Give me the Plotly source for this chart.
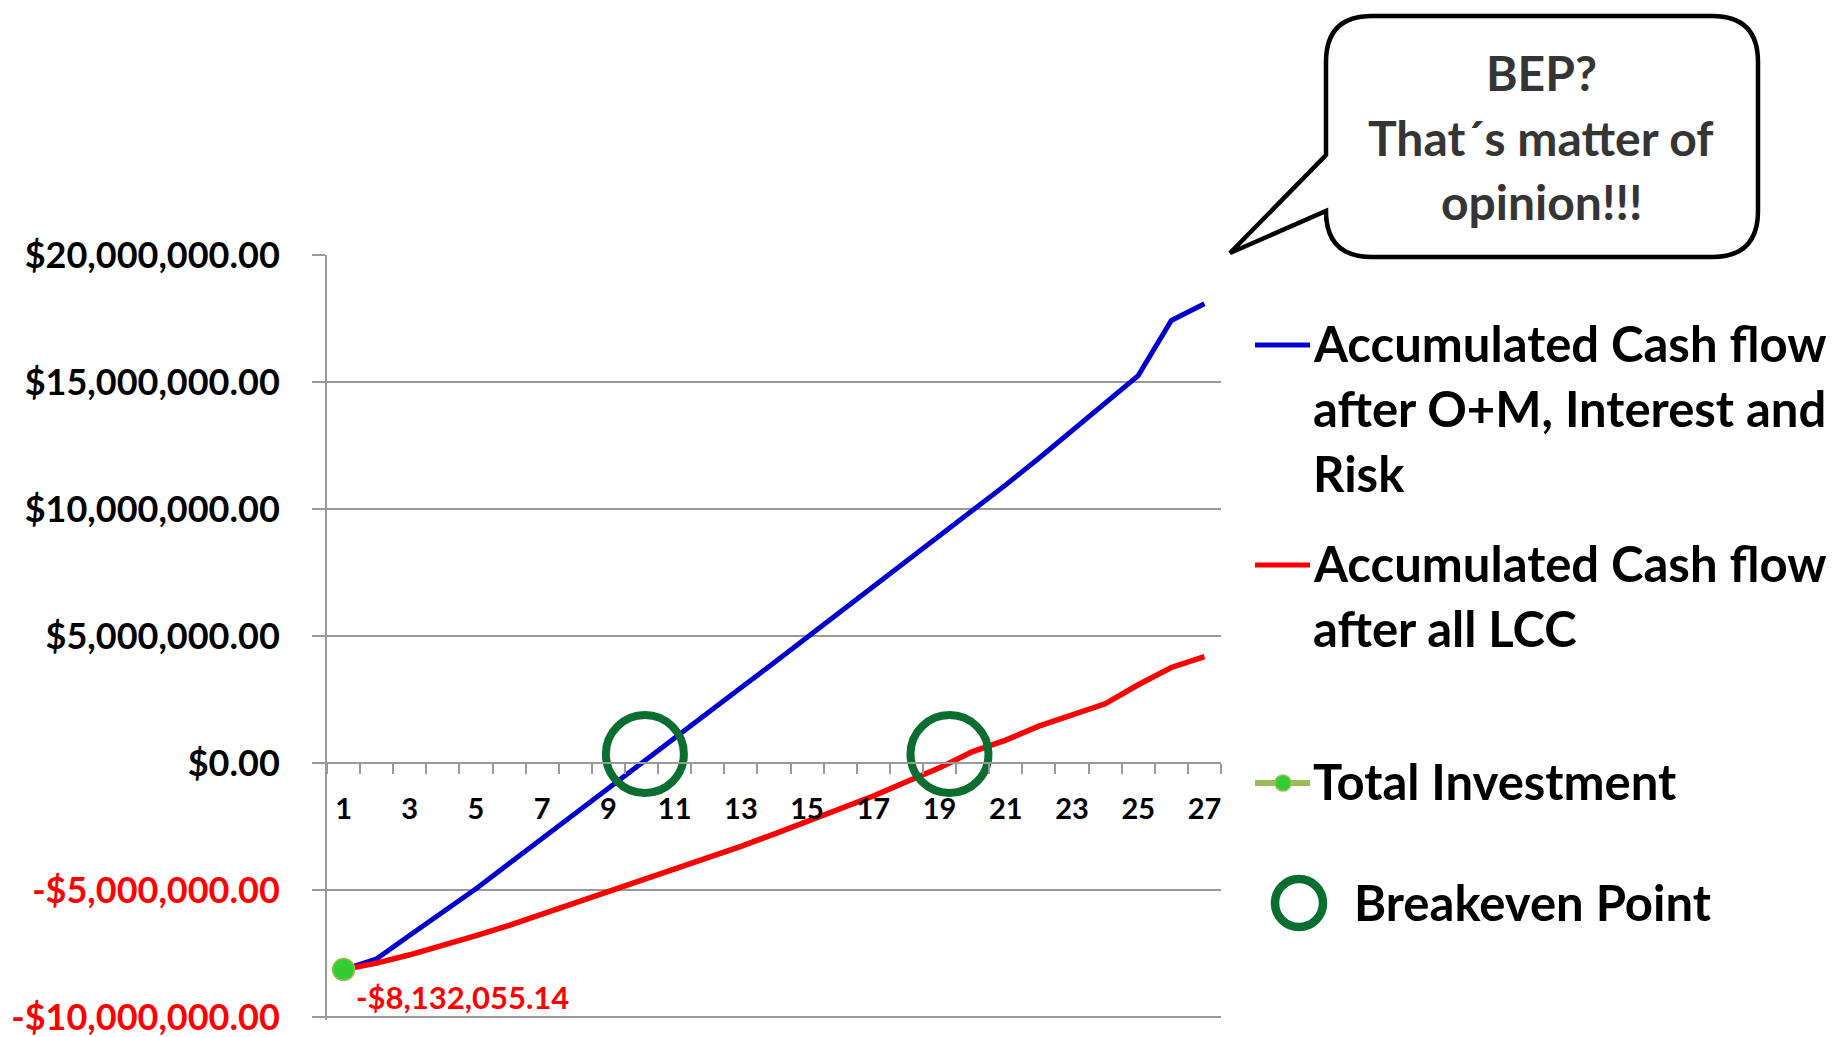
import plotly.graph_objects as go

# ---- data -------------------------------------------------------------
years = list(range(1, 28))

total_investment = -8132055.14

cash_flow_om_interest_risk = [
    -8132055.14, -7710000, -6780000, -5860000, -4950000, -3960000, -2980000,
    -1990000, -1000000, -20000, 970000, 1970000, 2960000, 3950000, 4950000,
    5940000, 6940000, 7930000, 8930000, 9920000, 10950000, 12000000,
    13070000, 14150000, 15250000, 17420000, 18080000,
]

cash_flow_all_lcc = [
    -8132055.14, -7880000, -7550000, -7190000, -6800000, -6390000, -5950000,
    -5490000, -5030000, -4600000, -4170000, -3740000, -3280000, -2800000,
    -2300000, -1850000, -1300000, -740000, -190000, 450000, 900000, 1450000,
    1900000, 2330000, 3080000, 3760000, 4190000,
]

breakeven_years = [10.1, 19.3]
breakeven_values = [350000, 350000]

y_ticks = [-10000000, -5000000, 0, 5000000, 10000000, 15000000, 20000000]
x_tick_years = list(range(1, 28, 2))

legend_labels = {
    "blue": ["Accumulated Cash flow", "after O+M, Interest and", "Risk"],
    "red": ["Accumulated Cash flow", "after all LCC"],
    "invest": ["Total Investment"],
    "bep": ["Breakeven Point"],
}
bubble_lines = ["BEP?", "That\u00b4s matter of", "opinion!!!"]

# ---- styling ----------------------------------------------------------
FONT = "Lato, 'Open Sans', sans-serif"
BLUE = "#0000CC"
RED = "#FF0000"
GRID = "#999999"
RING = "#0B6E31"
DOT = "#33CC33"
DOT_EDGE = "#9BBB59"

W, H = 1845, 1037
Y_MIN, Y_MAX = -10000000, 20000000
PL, PR = 327, 1221            # plot area left / right (px)
PT, Y_MIN_PX = 255, 1017      # pixel rows of Y_MAX and Y_MIN
PB = 1020                     # plot area extends a few px below Y_MIN
UNITS_PER_PX = (Y_MAX - Y_MIN) / (Y_MIN_PX - PT)
Y_LOW = Y_MIN - (PB - Y_MIN_PX) * UNITS_PER_PX


def px(x):
    return (x - PL) / (PR - PL)


def py(y):
    return (PB - y) / (PB - PT)


def money(v):
    return f"-${-v:,.2f}" if v < 0 else f"${v:,.2f}"


def y_label(v):
    s = money(v)
    return f'<span style="color:{RED}">{s}</span>' if v < 0 else s


fig = go.Figure()

fig.add_trace(go.Scatter(
    x=years, y=cash_flow_om_interest_risk, mode="lines",
    line=dict(color=BLUE, width=5), name="after O+M, Interest and Risk",
))
fig.add_trace(go.Scatter(
    x=years, y=cash_flow_all_lcc, mode="lines",
    line=dict(color=RED, width=5.5), name="after all LCC",
))
fig.add_trace(go.Scatter(
    x=breakeven_years, y=breakeven_values, mode="markers",
    marker=dict(symbol="circle-open", size=78, color=RING,
                line=dict(width=8, color=RING)),
    name="Breakeven Point", cliponaxis=False,
))
fig.add_trace(go.Scatter(
    x=[years[0]], y=[total_investment], mode="markers",
    marker=dict(size=22, color=DOT, line=dict(color=DOT_EDGE, width=1.5)),
    name="Total Investment", cliponaxis=False,
))

annotations = []
shapes = []

# value label of the total investment point
annotations.append(dict(
    x=years[0], y=total_investment, xref="x", yref="y",
    text=money(total_investment), showarrow=False,
    xanchor="left", yanchor="middle", xshift=10, yshift=-27,
    font=dict(family=FONT, size=31, color=RED, weight="bold"),
))

# ---- custom legend ----------------------------------------------------
LEG_FONT = dict(family=FONT, size=49, color="#000000", weight="bold")
TEXT_X = 1311


def legend_text(lines, y_first, step=65, x=TEXT_X):
    for i, t in enumerate(lines):
        annotations.append(dict(
            x=px(x), y=py(y_first + i * step), xref="paper", yref="paper",
            text=t, showarrow=False, xanchor="left", yanchor="middle",
            font=LEG_FONT,
        ))


def legend_line(y, color, width):
    shapes.append(dict(
        type="line", xref="paper", yref="paper",
        x0=px(1255), x1=px(1310), y0=py(y), y1=py(y),
        line=dict(color=color, width=width),
    ))


legend_line(345, BLUE, 5)
legend_text(legend_labels["blue"], 343)
legend_line(565, RED, 5)
legend_text(legend_labels["red"], 563)
legend_line(783, DOT_EDGE, 6)
shapes.append(dict(
    type="circle", xref="paper", yref="paper",
    x0=px(1283 - 8), x1=px(1283 + 8), y0=py(783 + 8), y1=py(783 - 8),
    fillcolor=DOT, line=dict(color=DOT_EDGE, width=1.5),
))
legend_text(legend_labels["invest"], 781)
shapes.append(dict(
    type="circle", xref="paper", yref="paper",
    x0=px(1299 - 24), x1=px(1299 + 24), y0=py(903 + 24), y1=py(903 - 24),
    line=dict(color=RING, width=8.5),
))
legend_text(legend_labels["bep"], 902, x=1352)

# ---- speech bubble ----------------------------------------------------
L, R, T, B, r = 1326, 1758, 16, 257, 46
tip = (1230, 253)


def P(x, y):
    return f"{px(x):.5f},{py(y):.5f}"


bubble = (
    f"M {P(L, T + r)} Q {P(L, T)} {P(L + r, T)} "
    f"L {P(R - r, T)} Q {P(R, T)} {P(R, T + r)} "
    f"L {P(R, B - r)} Q {P(R, B)} {P(R - r, B)} "
    f"L {P(L + r, B)} Q {P(L, B)} {P(L, B - r)} "
    f"L {P(*tip)} L {P(L, 155)} Z"
)
shapes.append(dict(
    type="path", path=bubble, xref="paper", yref="paper",
    fillcolor="#FFFFFF", line=dict(color="#000000", width=4.5),
))
for i, t in enumerate(bubble_lines):
    annotations.append(dict(
        x=px(1541), y=py(73 + i * 64), xref="paper", yref="paper",
        text=t, showarrow=False, xanchor="center", yanchor="middle",
        font=dict(family=FONT, size=48, color="#353535", weight="bold"),
    ))

fig.update_layout(
    template="none",
    width=W, height=H,
    margin=dict(l=PL, r=W - PR, t=PT, b=H - PB, pad=0),
    paper_bgcolor="#FFFFFF", plot_bgcolor="#FFFFFF",
    showlegend=False,
    annotations=annotations,
    shapes=shapes,
    xaxis=dict(
        range=[0.5, 27.5], automargin=False,
        anchor="free",
        position=(0 - Y_LOW) / (Y_MAX - Y_LOW),
        tickmode="array", tickvals=x_tick_years,
        ticktext=[str(v) for v in x_tick_years],
        ticks="", showgrid=False, zeroline=False,
        showline=True, linecolor=GRID, linewidth=2,
        ticklabelstandoff=20,
        tickfont=dict(family=FONT, size=29, color="#000000", weight="bold"),
        minor=dict(tick0=0.5, dtick=1, ticks="outside", ticklen=10,
                   tickwidth=2, tickcolor=GRID, showgrid=False),
    ),
    yaxis=dict(
        range=[Y_LOW, Y_MAX], automargin=False,
        tickmode="array", tickvals=y_ticks,
        ticktext=[y_label(v) for v in y_ticks],
        ticks="outside", ticklen=13, tickwidth=2, tickcolor=GRID,
        showgrid=True, gridcolor=GRID, gridwidth=2,
        zeroline=False, showline=True, linecolor=GRID, linewidth=2,
        ticklabelstandoff=25, ticklabeloverflow="allow",
        tickfont=dict(family=FONT, size=36, color="#000000", weight="bold"),
    ),
)

fig.write_html("out.html")
